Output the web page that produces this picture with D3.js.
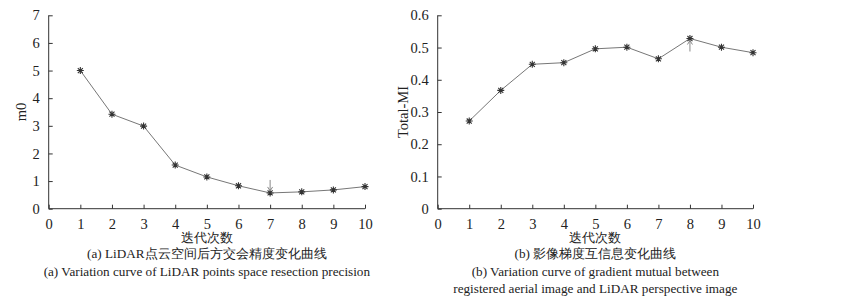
<!DOCTYPE html>
<html><head><meta charset="utf-8">
<script src="https://cdn.jsdelivr.net/npm/d3@7"></script>
<style>body{margin:0;background:#fff}svg{display:block}text{font-family:"Liberation Serif","Times New Roman",serif;fill:#222}</style>
</head><body><svg id="c" width="845" height="299"></svg>
<script>
const iterations = [1,2,3,4,5,6,7,8,9,10];
const m0Values = [5.0,3.42,2.99,1.58,1.15,0.83,0.57,0.61,0.68,0.80];
const miValues = [0.272,0.367,0.448,0.453,0.496,0.501,0.465,0.528,0.501,0.484];
const xTicks = [0,1,2,3,4,5,6,7,8,9,10];
const m0Ticks = [0,1,2,3,4,5,6,7];
const miTicks = [0,0.1,0.2,0.3,0.4,0.5,0.6];
const xLabel = "迭代次数";
const captionA = ["(a) LiDAR点云空间后方交会精度变化曲线","(a) Variation curve of LiDAR points space resection precision"];
const captionB = ["(b) 影像梯度互信息变化曲线","(b) Variation curve of gradient mutual between","registered aerial image and LiDAR perspective image"];

const svg = d3.select("#c");

function panel(cfg){
  const g = svg.append("g");
  const x = d3.scaleLinear().domain([0,10]).range([cfg.left, cfg.right]);
  const y = d3.scaleLinear().domain(cfg.yDomain).range([208.7, 15.3]);
  const xa = g.append("g").attr("transform",`translate(0,${y(0)})`)
    .call(d3.axisBottom(x).tickValues(xTicks).tickSizeInner(-4).tickSizeOuter(0).tickPadding(9).tickFormat(d3.format("d")));
  const ya = g.append("g").attr("transform",`translate(${x(0)},0)`)
    .call(d3.axisLeft(y).tickValues(cfg.yTicks).tickSizeInner(-4).tickSizeOuter(0).tickPadding(9).tickFormat(cfg.fmt));
  [xa,ya].forEach(a=>{
    a.select(".domain").attr("stroke","#333").attr("stroke-width",1);
    a.selectAll(".tick line").attr("stroke","#333");
    a.selectAll("text").attr("font-size",14.5).attr("font-family","'Liberation Serif',serif").attr("fill","#222");
  });
  xa.selectAll("text").attr("dy","0.75em");
  ya.select(".domain").attr("d",`M0,${y(0)}V${y(cfg.yDomain[1])}`);
  xa.select(".domain").attr("d",`M${x(0)},0H${x(10)}`);
  // y title
  g.append("text").attr("transform",`translate(${cfg.titleX},${(y(0)+y(cfg.yDomain[1]))/2}) rotate(-90)`)
    .attr("text-anchor","middle").attr("dominant-baseline","central").attr("font-size",14.5).text(cfg.yTitle);
  // line
  const line = d3.line().x((d,i)=>x(iterations[i])).y(d=>y(d));
  g.append("path").datum(cfg.values).attr("d",line).attr("fill","none").attr("stroke","#777").attr("stroke-width",1);
  // markers (asterisk)
  const r = 3.5;
  g.selectAll(".mk").data(cfg.values).join("path").attr("class","mk")
    .attr("d",(d,i)=>{const cx=x(iterations[i]), cy=y(d), q=r*0.72;
      return `M${cx-r},${cy}H${cx+r}M${cx},${cy-r}V${cy+r}M${cx-q},${cy-q}L${cx+q},${cy+q}M${cx-q},${cy+q}L${cx+q},${cy-q}`;})
    .attr("stroke","#333").attr("stroke-width",1.1).attr("fill","none");
  // arrow
  const ai = cfg.arrowIdx, ax = x(iterations[ai]), ay = y(cfg.values[ai]);
  const y0 = ay + cfg.arrowDir*13, y1 = ay + cfg.arrowDir*2;
  g.append("path").attr("d",`M${ax},${y0}L${ax},${y1}M${ax-2.5},${y1+cfg.arrowDir*4}L${ax},${y1}L${ax+2.5},${y1+cfg.arrowDir*4}`)
    .attr("stroke","#888").attr("stroke-width",1).attr("fill","none");
  // captions
  const cx = (x(0)+x(10))/2;
  g.append("text").attr("x",cx).attr("y",242).attr("text-anchor","middle").attr("font-size",13)
    .attr("font-family","'Noto Sans CJK SC',serif").attr("font-weight",300).text(xLabel);
  cfg.caption.forEach((t,i)=>{
    g.append("text").attr("x",cx).attr("y",258+i*17.5).attr("text-anchor","middle").attr("font-size",13.2).text(t);
  });
}

panel({left:48.7,right:365,yDomain:[0,7],yTicks:m0Ticks,fmt:d3.format("d"),yTitle:"m0",titleX:21,
  values:m0Values,arrowIdx:6,arrowDir:-1,caption:captionA});
panel({left:437.7,right:753,yDomain:[0,0.6],yTicks:miTicks,fmt:d=>d===0?"0":d3.format(".1f")(d),yTitle:"Total-MI",titleX:403,
  values:miValues,arrowIdx:7,arrowDir:1,caption:captionB});
</script></body></html>
